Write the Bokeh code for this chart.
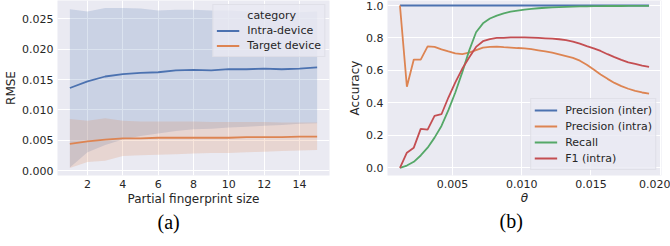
from bokeh.plotting import figure
from bokeh.layouts import row
from bokeh.models import Legend, LegendItem, Title, FixedTicker, NumeralTickFormatter, Range1d
from bokeh.embed import file_html
from bokeh.resources import INLINE

# ---------------- data: panel (a) ----------------
sizes = [1, 2, 3, 4, 5, 6, 7, 8, 9, 10, 11, 12, 13, 14, 15]
intra_mean = [0.0136, 0.0147, 0.0155, 0.0159, 0.0161, 0.0162, 0.0165, 0.0166,
              0.0165, 0.0167, 0.0167, 0.0168, 0.0167, 0.0168, 0.0170]
intra_upper = [0.0266, 0.0262, 0.0268, 0.0268, 0.0267, 0.0264, 0.0265, 0.0265,
               0.0264, 0.0264, 0.0262, 0.0262, 0.0262, 0.0261, 0.0262]
intra_lower = [0.0005, 0.0030, 0.0042, 0.0051, 0.0057, 0.0061, 0.0065, 0.0068,
               0.0069, 0.0071, 0.0072, 0.0074, 0.0075, 0.0077, 0.0078]
target_mean = [0.0044, 0.0048, 0.0051, 0.0053, 0.0053, 0.0054, 0.0054, 0.0054,
               0.0054, 0.0054, 0.0055, 0.0055, 0.0055, 0.0056, 0.0056]
target_upper = [0.0085, 0.0082, 0.0086, 0.0082, 0.0081, 0.0081, 0.0081, 0.0081,
                0.0080, 0.0080, 0.0080, 0.0080, 0.0079, 0.0079, 0.0079]
target_lower = [0.0004, 0.0014, 0.0016, 0.0024, 0.0025, 0.0026, 0.0027, 0.0028,
                0.0029, 0.0029, 0.0030, 0.0031, 0.0032, 0.0033, 0.0034]
a_xticks = [2, 4, 6, 8, 10, 12, 14]
a_yticks = [0.0, 0.005, 0.010, 0.015, 0.020, 0.025]

# ---------------- data: panel (b) ----------------
theta = [0.0012, 0.0017, 0.0022, 0.0027, 0.0032, 0.0037, 0.0042, 0.0047, 0.0052,
         0.0057, 0.0062, 0.0067, 0.0072, 0.0077, 0.0082, 0.0087, 0.0092, 0.0097,
         0.0102, 0.0107, 0.0112, 0.0117, 0.0122, 0.0127, 0.0132, 0.0137, 0.0142,
         0.0147, 0.0152, 0.0157, 0.0162, 0.0167, 0.0172, 0.0177, 0.0182, 0.0187,
         0.0192]
prec_inter = [1.0, 1.0, 1.0, 1.0, 1.0, 1.0, 1.0, 1.0, 1.0, 1.0, 1.0, 1.0, 1.0,
              1.0, 1.0, 1.0, 1.0, 1.0, 1.0, 1.0, 1.0, 1.0, 1.0, 1.0, 1.0, 1.0,
              1.0, 1.0, 1.0, 1.0, 1.0, 1.0, 1.0, 1.0, 1.0, 1.0, 1.0]
prec_intra = [1.0, 0.50, 0.667, 0.667, 0.748, 0.745, 0.73, 0.717, 0.705, 0.70,
              0.71, 0.725, 0.74, 0.745, 0.746, 0.743, 0.741, 0.738, 0.736, 0.731,
              0.724, 0.717, 0.709, 0.699, 0.688, 0.677, 0.66, 0.635, 0.606, 0.575,
              0.548, 0.523, 0.503, 0.487, 0.474, 0.464, 0.457]
recall = [0.0, 0.014, 0.037, 0.076, 0.124, 0.186, 0.258, 0.355, 0.464, 0.588,
          0.722, 0.835, 0.89, 0.92, 0.938, 0.952, 0.962, 0.969, 0.975, 0.979,
          0.983, 0.986, 0.988, 0.990, 0.992, 0.993, 0.994, 0.995, 0.996, 0.996,
          0.997, 0.997, 0.997, 0.998, 0.998, 0.998, 0.998]
f1_intra = [0.0, 0.093, 0.124, 0.24, 0.235, 0.32, 0.33, 0.433, 0.526, 0.61,
            0.68, 0.745, 0.78, 0.793, 0.80, 0.80, 0.803, 0.804, 0.804, 0.802,
            0.800, 0.798, 0.796, 0.792, 0.787, 0.778, 0.765, 0.750, 0.736, 0.72,
            0.70, 0.682, 0.665, 0.65, 0.64, 0.63, 0.622]
b_xticks = [0.005, 0.010, 0.015, 0.020]
b_yticks = [0.0, 0.2, 0.4, 0.6, 0.8, 1.0]

BLUE, ORANGE, GREEN, RED = "#4C72B0", "#DD8452", "#55A868", "#C44E52"
BG = "#EAEAF2"
TXT = "#262626"
FONT = "DejaVu Sans"


def style(p):
    p.background_fill_color = BG
    p.border_fill_color = "white"
    p.outline_line_color = None
    for ax in p.axis:
        ax.axis_line_color = None
        ax.major_tick_line_color = None
        ax.minor_tick_line_color = None
        ax.major_tick_out = 0
        ax.major_tick_in = 0
        ax.major_label_text_font = FONT
        ax.major_label_text_font_size = "11px"
        ax.major_label_text_color = TXT
        ax.axis_label_text_font = FONT
        ax.axis_label_text_font_size = "12px"
        ax.axis_label_text_color = TXT
        ax.axis_label_text_font_style = "normal"
        ax.major_label_standoff = 4
        ax.axis_label_standoff = 1
    p.grid.grid_line_color = "white"
    p.grid.grid_line_width = 1


def style_legend(lg):
    lg.background_fill_color = BG
    lg.background_fill_alpha = 0.8
    lg.border_line_color = "#d6d6de"
    lg.label_text_font = FONT
    lg.label_text_font_size = "11px"
    lg.label_text_color = TXT
    lg.glyph_width = 23
    lg.label_standoff = 8
    lg.spacing = 0
    lg.padding = 3
    lg.margin = 5


def caption(p, txt, off):
    p.add_layout(Title(text=txt, align="left", offset=off,
                       text_font="Liberation Serif", text_font_size="20px",
                       text_font_style="normal", text_color="black", standoff=0),
                 "below")


# ---------------- panel (a) ----------------
p1 = figure(width=335, height=246, output_backend="svg", toolbar_location=None,
            x_range=Range1d(0.30, 15.70), y_range=Range1d(-0.00082, 0.02803),
            min_border_left=57, min_border_right=6, min_border_top=0,
            min_border_bottom=71)
p1.varea(x=sizes, y1=intra_lower, y2=intra_upper, fill_color=BLUE, fill_alpha=0.2)
p1.varea(x=sizes, y1=target_lower, y2=target_upper, fill_color=ORANGE, fill_alpha=0.2)
l_intra = p1.line(sizes, intra_mean, line_color=BLUE, line_width=1.8)
l_target = p1.line(sizes, target_mean, line_color=ORANGE, line_width=1.8)
p1.xaxis.ticker = FixedTicker(ticks=a_xticks)
p1.yaxis.ticker = FixedTicker(ticks=a_yticks)
p1.yaxis.formatter = NumeralTickFormatter(format="0.000")
p1.xaxis.axis_label = "Partial fingerprint size"
p1.yaxis.axis_label = "RMSE"
style(p1)
lg1 = Legend(items=[LegendItem(label="category", renderers=[]),
                    LegendItem(label="Intra-device", renderers=[l_intra]),
                    LegendItem(label="Target device", renderers=[l_target])],
             location="top_right")
style_legend(lg1)
lg1.glyph_height = 15
lg1.label_height = 15
lg1.margin = 4
p1.add_layout(lg1)
caption(p1, "(a)", 100)

# ---------------- panel (b) ----------------
p2 = figure(width=335, height=246, output_backend="svg", toolbar_location=None,
            x_range=Range1d(0.0003, 0.0201), y_range=Range1d(-0.0474, 1.0308),
            min_border_left=52, min_border_right=9, min_border_top=0,
            min_border_bottom=71)
r_inter = p2.line(theta, prec_inter, line_color=BLUE, line_width=1.8)
r_intra = p2.line(theta, prec_intra, line_color=ORANGE, line_width=1.8)
r_rec = p2.line(theta, recall, line_color=GREEN, line_width=1.8)
r_f1 = p2.line(theta, f1_intra, line_color=RED, line_width=1.8)
p2.xaxis.ticker = FixedTicker(ticks=b_xticks)
p2.yaxis.ticker = FixedTicker(ticks=b_yticks)
p2.xaxis.formatter = NumeralTickFormatter(format="0.000")
p2.yaxis.formatter = NumeralTickFormatter(format="0.0")
p2.xaxis.axis_label = "θ"
p2.yaxis.axis_label = "Accuracy"
style(p2)
p2.xaxis.axis_label_text_font_style = "italic"
p2.xaxis.axis_label_standoff = 0
lg2 = Legend(items=[LegendItem(label="Precision (inter)", renderers=[r_inter]),
                    LegendItem(label="Precision (intra)", renderers=[r_intra]),
                    LegendItem(label="Recall", renderers=[r_rec]),
                    LegendItem(label="F1 (intra)", renderers=[r_f1])],
             location="bottom_right")
style_legend(lg2)
lg2.glyph_height = 16
lg2.label_height = 16
p2.add_layout(lg2)
caption(p2, "(b)", 112)

layout = row(p1, p2)
open("out.html", "w").write(file_html(layout, INLINE))
